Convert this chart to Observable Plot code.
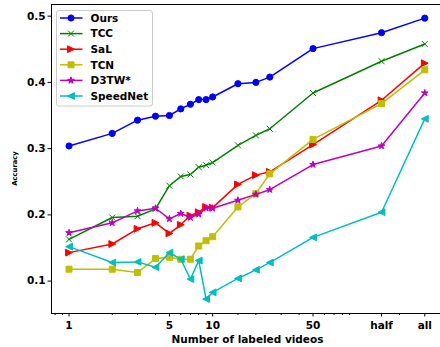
<!DOCTYPE html>
<html>
<head>
<meta charset="utf-8">
<script src="https://cdn.jsdelivr.net/npm/d3@7"></script>
<script src="https://cdn.jsdelivr.net/npm/@observablehq/plot@0.6"></script>
<style>
  html, body { margin: 0; padding: 0; background: white; }
  #chart { width: 440px; height: 347px; }
</style>
</head>
<body>
<div id="chart"></div>
<script>
// ---- data ----
const xValues = [1, 2, 3, 4, 5, 6, 7, 8, 9, 10, 15, 20, 25, 50, 150, 300];
const xTickValues = [1, 5, 10, 50, 150, 300];
const xTickLabels = ["1", "5", "10", "50", "half", "all"];
const xMinorTicks = [0.8, 0.9, 2, 3, 4, 6, 7, 8, 9, 15, 20, 30, 40, 60, 70, 80, 90, 200];
const yTickValues = [0.1, 0.2, 0.3, 0.4, 0.5];

const seriesNames = ["Ours", "TCC", "SaL", "TCN", "D3TW*", "SpeedNet"];
const ours     = [0.304, 0.323, 0.343, 0.349, 0.350, 0.360, 0.367, 0.374, 0.374, 0.378, 0.398, 0.400, 0.408, 0.451, 0.475, 0.497];
const tcc      = [0.163, 0.196, 0.198, 0.209, 0.244, 0.258, 0.261, 0.272, 0.275, 0.279, 0.305, 0.320, 0.330, 0.384, 0.432, 0.458];
const sal      = [0.143, 0.156, 0.179, 0.188, 0.172, 0.185, 0.199, 0.204, 0.212, 0.211, 0.246, 0.260, 0.265, 0.306, 0.373, 0.429];
const tcn      = [0.118, 0.118, 0.113, 0.134, 0.136, 0.133, 0.133, 0.153, 0.161, 0.167, 0.212, 0.232, 0.262, 0.314, 0.368, 0.419];
const d3tw     = [0.173, 0.188, 0.206, 0.210, 0.194, 0.202, 0.196, 0.201, 0.210, 0.210, 0.222, 0.231, 0.238, 0.276, 0.304, 0.384];
const speednet = [0.152, 0.128, 0.129, 0.121, 0.143, 0.133, 0.103, 0.131, 0.073, 0.083, 0.104, 0.117, 0.128, 0.166, 0.204, 0.345];
const seriesValues = [ours, tcc, sal, tcn, d3tw, speednet];

// ---- styles ----
const colors = ["#0000ff", "#008000", "#ff0000", "#bfbf00", "#bf00bf", "#00bfbf"];
function triangle(dir) {
  return {
    draw(ctx, size) {
      const s = Math.sqrt(size / Math.PI);
      ctx.moveTo(dir * s, 0);
      ctx.lineTo(-dir * s, -s);
      ctx.lineTo(-dir * s, s);
      ctx.closePath();
    }
  };
}
const cross = {
  draw(ctx, size) {
    const s = Math.sqrt(size / Math.PI);
    ctx.moveTo(-s, -s); ctx.lineTo(s, s);
    ctx.moveTo(-s, s); ctx.lineTo(s, -s);
  }
};
const symbols = [d3.symbolCircle, cross, triangle(1), d3.symbolSquare, d3.symbolStar, triangle(-1)];
const radii = [3.1, 3.0, 3.4, 3.4, 2.1, 3.4];
const filled = [true, false, true, true, true, true];

const rows = [];
seriesNames.forEach((name, si) => {
  xValues.forEach((x, i) => rows.push({series: name, si, x, y: seriesValues[si][i]}));
});
const xTicks = xTickValues.map((v, i) => ({x: v, label: xTickLabels[i]}));

const marks = [];
seriesNames.forEach((name, si) => {
  const data = rows.filter(d => d.si === si);
  marks.push(Plot.line(data, {x: "x", y: "y", stroke: colors[si], strokeWidth: 1.5}));
  marks.push(Plot.dot(data, {
    x: "x", y: "y", symbol: () => symbols[si], r: radii[si],
    fill: filled[si] ? colors[si] : "none",
    stroke: colors[si], strokeWidth: 1
  }));
});

const chart = Plot.plot({
  width: 440,
  height: 347,
  marginLeft: 51,
  marginRight: 0,
  marginTop: 4,
  marginBottom: 34,
  x: {type: "log", domain: [0.755, 386]},
  y: {domain: [0.0511, 0.5176]},
  style: {fontFamily: "DejaVu Sans", fontWeight: "bold", fontSize: "10.5px", color: "black", background: "white"},
  marks: [
    ...marks,
    Plot.frame({anchor: "top", stroke: "black"}),
    Plot.frame({anchor: "left", stroke: "black"}),
    Plot.frame({anchor: "bottom", stroke: "black"}),
    Plot.axisX({ticks: xTickValues, tickFormat: () => "", tickSize: 3.5, label: null}),
    Plot.axisX({ticks: xMinorTicks, tickSize: 2, tickFormat: () => "", label: null}),
    Plot.text(xTicks, {x: "x", text: "label", frameAnchor: "bottom", dy: 8, lineAnchor: "top", fontSize: 10.5, fontWeight: "bold"}),
    Plot.axisY({ticks: yTickValues, tickFormat: d3.format(".1f"), tickSize: 3.5, tickPadding: 2.5, label: null, fontSize: 10.5}),
    Plot.text(["Number of labeled videos"], {frameAnchor: "bottom", dy: 26, dx: 1.5, fontSize: 10.5, fontWeight: "bold", lineAnchor: "middle"}),
    Plot.text(["Accuracy"], {frameAnchor: "left", dx: -37, dy: 9.5, rotate: -90, fontSize: 6.8, fontWeight: "bold", lineAnchor: "middle", textAnchor: "middle"})
  ]
});

// ---- legend ----
const svg = d3.select(chart);
const lg = svg.append("g").attr("font-family", "DejaVu Sans").attr("font-weight", "bold")
  .attr("font-size", "10.5px").attr("text-anchor", "start");
lg.append("rect").attr("x", 56.5).attr("y", 10.5).attr("width", 96).attr("height", 95.5).attr("rx", 2.5)
  .attr("fill", "white").attr("fill-opacity", 0.8).attr("stroke", "#cccccc").attr("stroke-width", 1);
seriesNames.forEach((name, si) => {
  const y = 18 + si * 15.6;
  lg.append("line").attr("x1", 60).attr("x2", 82.5).attr("y1", y).attr("y2", y)
    .attr("stroke", colors[si]).attr("stroke-width", 1.5);
  lg.append("path").attr("transform", `translate(71,${y})`)
    .attr("d", d3.symbol().type(symbols[si]).size(Math.PI * radii[si] * radii[si])())
    .attr("fill", filled[si] ? colors[si] : "none").attr("stroke", colors[si]).attr("stroke-width", 1);
  lg.append("text").attr("x", 90.5).attr("y", y).attr("dy", "0.36em").attr("fill", "black").text(name);
});

document.getElementById("chart").appendChild(chart);
</script>
</body>
</html>
